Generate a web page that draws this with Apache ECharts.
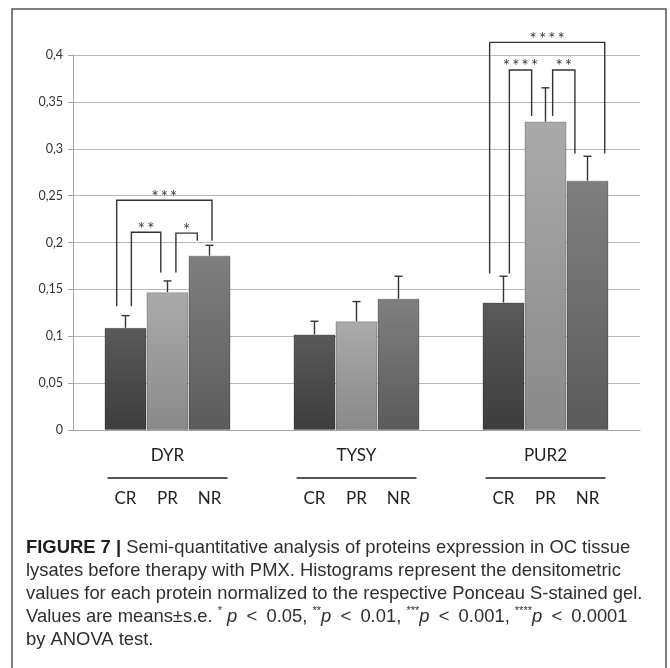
<!DOCTYPE html>
<html>
<head>
<meta charset="utf-8">
<title>Protein expression by response group</title>
<script src="https://cdn.jsdelivr.net/npm/echarts@6/dist/echarts.min.js"></script>
<style>
  html, body { margin: 0; padding: 0; background: #fff; }
  #chart { width: 670px; height: 668px; }
</style>
</head>
<body>
<div id="chart"></div>
<script>
// Proteins and response groups
const proteins = ['DYR', 'TYSY', 'PUR2'];
const responses = ['CR', 'PR', 'NR'];

// Mean normalized densitometric values per protein
const meanCR = [0.109, 0.102, 0.136];
const meanPR = [0.147, 0.116, 0.329];
const meanNR = [0.186, 0.140, 0.266];

// Standard errors (upper whisker only)
const seCR = [0.013, 0.014, 0.028];
const sePR = [0.012, 0.021, 0.036];
const seNR = [0.011, 0.024, 0.026];

// Y tick labels (decimal comma)
const yTickLabels = ['0', '0,05', '0,1', '0,15', '0,2', '0,25', '0,3', '0,35', '0,4'];

// Significance brackets: protein index, compared groups, bracket level, leg ends, stars
const sigProtein = [0, 0, 0, 2, 2, 2];
const sigFrom    = [0, 0, 1, 0, 0, 1];
const sigTo      = [2, 1, 2, 2, 1, 2];
const sigLevel   = [0.245, 0.211, 0.210, 0.4135, 0.384, 0.384];
const sigLowL    = [0.132, 0.132, 0.168, 0.167, 0.167, 0.335];
const sigLowR    = [0.202, 0.168, 0.202, 0.295, 0.335, 0.295];
const sigStars   = ['***', '**', '*', '****', '****', '**'];

// Horizontal nudge of each bracket leg from its bar centre, in bar widths
const legNudgeL = [-0.21, 0.14, 0.20, -0.33, 0.14, 0.17];
const legNudgeR = [0.06, -0.16, -0.29, 0.41, -0.33, -0.30];

const BAR_GAP = 1 / 3;           // category gap share of the band
const barShare = (1 - BAR_GAP) / 3;

const means = [meanCR, meanPR, meanNR];
const ses = [seCR, sePR, seNR];

const gradients = [
  ['#5a5a5a', '#3d3d3d'],
  ['#aaaaaa', '#898989'],
  ['#7f7f7f', '#5b5b5b']
];

function barX(api, protein, group) {
  const c = api.coord([protein, 0]);
  const band = api.size([1, 0])[0];
  const bw = band * barShare;
  return { x: c[0] + (group - 1) * bw, bw: bw };
}

const barSeries = responses.map((r, s) => ({
  name: r,
  type: 'bar',
  data: means[s],
  barGap: '0%',
  barCategoryGap: (BAR_GAP * 100).toFixed(2) + '%',
  itemStyle: {
    color: {
      type: 'linear', x: 0, y: 0, x2: 0, y2: 1,
      colorStops: [
        { offset: 0, color: gradients[s][0] },
        { offset: 1, color: gradients[s][1] }
      ]
    },
    borderColor: 'rgba(0,0,0,0.22)',
    borderWidth: 1
  },
  silent: true,
  z: 2
}));

const errData = [];
responses.forEach((r, s) => {
  proteins.forEach((p, i) => errData.push([i, means[s][i], ses[s][i], s]));
});

const errSeries = {
  type: 'custom',
  data: errData,
  encode: { x: 0, y: 1 },
  z: 3,
  silent: true,
  renderItem: function (params, api) {
    const p = api.value(0), m = api.value(1), e = api.value(2), s = api.value(3);
    const bx = barX(api, p, s);
    const y0 = api.coord([p, m])[1];
    const y1 = api.coord([p, m + e])[1];
    const cap = 4;
    const st = { stroke: '#333', lineWidth: 1.4 };
    return {
      type: 'group',
      children: [
        { type: 'line', shape: { x1: bx.x, y1: y0, x2: bx.x, y2: y1 }, style: st },
        { type: 'line', shape: { x1: bx.x - cap, y1: y1, x2: bx.x + cap, y2: y1 }, style: st }
      ]
    };
  }
};

const sigData = sigProtein.map((p, k) => [p, sigLevel[k], sigFrom[k], sigTo[k], sigLowL[k], sigLowR[k]]);

const sigSeries = {
  type: 'custom',
  data: sigData,
  encode: { x: 0, y: 1 },
  clip: false,
  z: 4,
  silent: true,
  renderItem: function (params, api) {
    const k = params.dataIndex;
    const p = api.value(0), lvl = api.value(1), a = api.value(2), b = api.value(3);
    const lowL = api.value(4), lowR = api.value(5);
    const L = barX(api, p, a), R = barX(api, p, b);
    const xl = L.x + legNudgeL[k] * L.bw;
    const xr = R.x + legNudgeR[k] * R.bw;
    const yt = api.coord([p, lvl])[1];
    const yl = api.coord([p, lowL])[1];
    const yr = api.coord([p, lowR])[1];
    return {
      type: 'group',
      children: [
        {
          type: 'polyline',
          shape: { points: [[xl, yl], [xl, yt], [xr, yt], [xr, yr]] },
          style: { stroke: '#333', lineWidth: 1.4, fill: null }
        },
        {
          type: 'text',
          x: (xl + xr) / 2,
          y: yt - 3,
          style: {
            text: sigStars[k].split('').join('\u2009'),
            fill: '#3a3a3a',
            fontSize: 17,
            fontFamily: 'Lato',
            align: 'center',
            verticalAlign: 'middle'
          }
        }
      ]
    };
  }
};

const chart = echarts.init(document.getElementById('chart'), null, { renderer: 'canvas' });

chart.setOption({
  animation: false,
  backgroundColor: '#fff',
  grid: { left: 73, right: 30, top: 55, bottom: 238 },
  xAxis: {
    type: 'category',
    data: proteins,
    axisLine: { lineStyle: { color: '#a3a3a3', width: 1 } },
    axisTick: { length: 5, lineStyle: { color: '#a3a3a3' } },
    axisLabel: {
      interval: 0,
      margin: 14,
      color: '#222',
      formatter: function (v) {
        return '{name|' + v + '}\n{rule| }\n' + responses.map(r => '{sub|' + r + '}').join('');
      },
      rich: {
        name: { fontSize: 17, lineHeight: 24, fontFamily: 'Lato', color: '#222' },
        rule: { width: 120, height: 2, lineHeight: 20, backgroundColor: '#555' },
        sub: { fontSize: 17, lineHeight: 22, fontFamily: 'Lato', color: '#222', width: 42, align: 'center' }
      }
    }
  },
  yAxis: {
    type: 'value',
    min: 0,
    max: 0.4,
    interval: 0.05,
    axisLine: { show: true, lineStyle: { color: '#a3a3a3', width: 1 } },
    axisTick: { show: true, length: 5, lineStyle: { color: '#a3a3a3' } },
    splitLine: { lineStyle: { color: '#b8b8b8', width: 1 } },
    axisLabel: {
      margin: 10,
      color: '#333',
      fontSize: 12.5,
      fontFamily: 'Lato',
      formatter: function (v, i) { return yTickLabels[i]; }
    }
  },
  series: barSeries.concat([errSeries, sigSeries]),
  graphic: [
    {
      type: 'rect',
      shape: { x: 12, y: 9, width: 654, height: 700 },
      style: { fill: null, stroke: '#555', lineWidth: 1.5 },
      silent: true
    },
    {
      type: 'text',
      left: 26,
      top: 536,
      silent: true,
      style: {
        text: '{b|FIGURE 7 |} Semi-quantitative analysis of proteins expression in OC tissue\n' +
              'lysates before therapy with PMX. Histograms represent the densitometric\n' +
              'values for each protein normalized to the respective Ponceau S-stained gel.\n' +
              'Values are means\u00b1s.e. {sup|*} {i|p}\u2002<\u20020.05, {sup|**}{i|p}\u2002<\u20020.01, {sup|***}{i|p}\u2002<\u20020.001, {sup|****}{i|p}\u2002<\u20020.0001\n' +
              'by ANOVA test.',
        fontFamily: 'Liberation Sans',
        fontSize: 18.4,
        lineHeight: 23,
        fill: '#2e2e2e',
        rich: {
          b: { fontFamily: 'Liberation Sans', fontWeight: 'bold', fontSize: 18.4, fill: '#1e1e1e', lineHeight: 23 },
          i: { fontFamily: 'Liberation Sans', fontStyle: 'italic', fontSize: 18.4, fill: '#2e2e2e', lineHeight: 23 },
          sup: { fontFamily: 'Liberation Sans', fontSize: 11, fill: '#2e2e2e', lineHeight: 23, verticalAlign: 'top', padding: [0, 0, 8, 0] }
        }
      }
    }
  ]
});
</script>
</body>
</html>
